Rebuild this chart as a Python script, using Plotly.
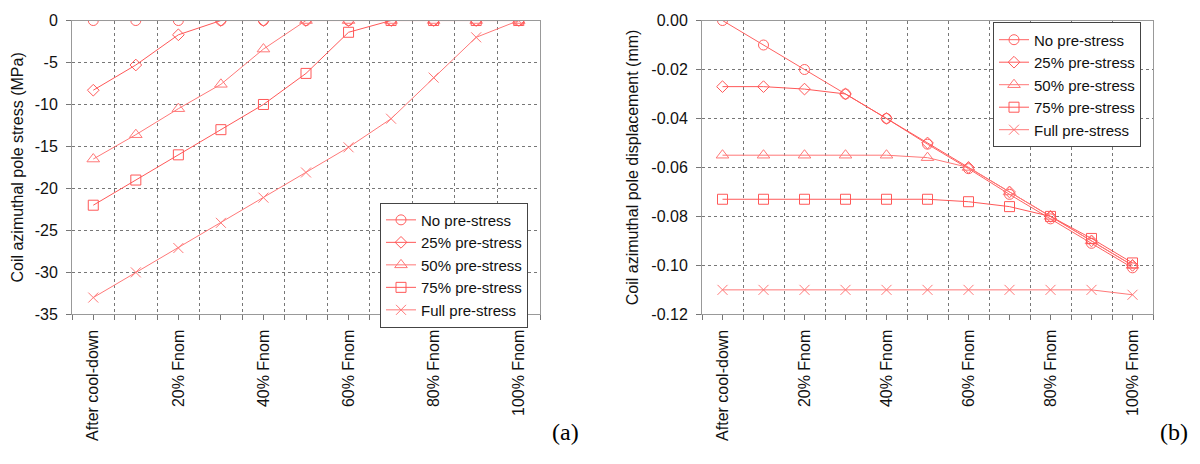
import plotly.graph_objects as go

# ---------------- data ----------------
stages = ["After cool-down", "10% Fnom", "20% Fnom", "30% Fnom", "40% Fnom", "50% Fnom",
          "60% Fnom", "70% Fnom", "80% Fnom", "90% Fnom", "100% Fnom"]
stage_tick_text = ["After cool-down", "", "20% Fnom", "", "40% Fnom", "",
                   "60% Fnom", "", "80% Fnom", "", "100% Fnom"]

series_names = ["No pre-stress", "25% pre-stress", "50% pre-stress", "75% pre-stress", "Full pre-stress"]

stress_none = [0, 0, 0, 0, 0, 0, 0, 0, 0, 0, 0]
stress_25 = [-8.3, -5.3, -1.7, 0, 0, 0, 0, 0, 0, 0, 0]
stress_50 = [-16.5, -13.6, -10.5, -7.6, -3.4, 0, 0, 0, 0, 0, 0]
stress_75 = [-22.0, -19.0, -16.0, -13.0, -10.0, -6.3, -1.4, 0, 0, 0, 0]
stress_full = [-33.0, -30.0, -27.1, -24.1, -21.1, -18.1, -15.1, -11.7, -6.8, -2.0, 0]

disp_none = [0.0, -0.010, -0.020, -0.030, -0.040, -0.0505, -0.0605, -0.071, -0.081, -0.091, -0.101]
disp_25 = [-0.027, -0.027, -0.028, -0.030, -0.040, -0.050, -0.060, -0.070, -0.080, -0.090, -0.100]
disp_50 = [-0.055, -0.055, -0.055, -0.055, -0.055, -0.056, -0.060, -0.070, -0.080, -0.090, -0.100]
disp_75 = [-0.073, -0.073, -0.073, -0.073, -0.073, -0.073, -0.074, -0.076, -0.080, -0.089, -0.099]
disp_full = [-0.110, -0.110, -0.110, -0.110, -0.110, -0.110, -0.110, -0.110, -0.110, -0.110, -0.112]

stress_ticks = [0, -5, -10, -15, -20, -25, -30, -35]
stress_tick_text = ["0", "-5", "-10", "-15", "-20", "-25", "-30", "-35"]
disp_ticks = [0.0, -0.02, -0.04, -0.06, -0.08, -0.10, -0.12]
disp_tick_text = ["0.00", "-0.02", "-0.04", "-0.06", "-0.08", "-0.10", "-0.12"]

# ---------------- styles ----------------
symbols = ["circle-open", "diamond-open", "triangle-up-open", "square-open", "x-thin-open"]
colors = ["#ff6060", "#ff5858", "#ff7878", "#ff5858", "#ff7878"]
sizes = [10, 9, 11, 10, 10]

x_idx = list(range(len(stages)))
FONT = "Liberation Sans, Arial, sans-serif"
FS = 16

fig = go.Figure()

left_series = [stress_none, stress_25, stress_50, stress_75, stress_full]
right_series = [disp_none, disp_25, disp_50, disp_75, disp_full]

for i, (name, ys) in enumerate(zip(series_names, left_series)):
    fig.add_trace(go.Scatter(
        x=x_idx, y=ys, name=name, mode="lines+markers",
        line=dict(color=colors[i], width=1),
        marker=dict(symbol=symbols[i], size=sizes[i], color=colors[i], line=dict(width=1)),
        xaxis="x", yaxis="y", legend="legend",
        hovertext=stages,
    ))

for i, (name, ys) in enumerate(zip(series_names, right_series)):
    fig.add_trace(go.Scatter(
        x=x_idx, y=ys, name=name, mode="lines+markers",
        line=dict(color=colors[i], width=1),
        marker=dict(symbol=symbols[i], size=sizes[i], color=colors[i], line=dict(width=1)),
        xaxis="x2", yaxis="y2", legend="legend2",
        hovertext=stages,
    ))

W, H = 1200, 464
ydom = [1 - 318 / H, 1 - 13 / H]

def xaxis_cfg(domain, anchor):
    return dict(
        domain=domain, anchor=anchor,
        range=[-0.5, len(stages) - 0.5],
        tickmode="array", tickvals=x_idx, ticktext=stage_tick_text,
        tickangle=-90, ticks="outside", ticklen=5, tickcolor="#777",
        tickfont=dict(family=FONT, size=FS, color="#111"),
        ticklabelstandoff=3,
        showgrid=False, zeroline=False,
        showline=True, linecolor="#999", linewidth=1, mirror=True,
        minor=dict(tick0=0.5, dtick=1, ticks="outside", ticklen=5, tickcolor="#777",
                   showgrid=True, gridcolor="#777", griddash="dot", gridwidth=1),
        fixedrange=True,
    )

def yaxis_cfg(domain, anchor, rng, tv, tt, title, standoff):
    return dict(
        domain=domain, anchor=anchor, range=rng,
        tickmode="array", tickvals=tv, ticktext=tt,
        ticks="outside", ticklen=5, tickcolor="#777",
        tickfont=dict(family=FONT, size=FS, color="#111"),
        ticklabelstandoff=5,
        showgrid=True, gridcolor="#777", griddash="dot", gridwidth=1,
        zeroline=False,
        showline=True, linecolor="#999", linewidth=1, mirror=True,
        title=dict(text=title, font=dict(family=FONT, size=FS, color="#111"), standoff=standoff),
        fixedrange=True,
    )

legend_common = dict(
    bgcolor="white", bordercolor="#444", borderwidth=1,
    font=dict(family=FONT, size=15, color="#111"),
    xanchor="left", yanchor="top", tracegroupgap=0,
)

fig.update_layout(
    width=W, height=H,
    margin=dict(l=0, r=0, t=0, b=0),
    paper_bgcolor="white", plot_bgcolor="white",
    showlegend=True,
    xaxis=xaxis_cfg([72 / W, 540 / W], "y"),
    yaxis=yaxis_cfg(ydom, "x", [-35, 0], stress_ticks, stress_tick_text,
                    "Coil azimuthal pole stress (MPa)", 7),
    xaxis2=xaxis_cfg([702 / W, 1153 / W], "y2"),
    yaxis2=yaxis_cfg(ydom, "x2", [-0.12, 0], disp_ticks, disp_tick_text,
                     "Coil azimuthal pole displacement (mm)", 8),
    legend=dict(x=380 / W, y=1 - 202 / H, **legend_common),
    legend2=dict(x=993 / W, y=1 - 15 / H, **legend_common),
    annotations=[
        dict(text="(a)", x=581 / W, y=1 - 440 / H, xref="paper", yref="paper",
             xanchor="right", yanchor="middle", showarrow=False,
             font=dict(family="Liberation Serif, Times New Roman, serif", size=24, color="#000")),
        dict(text="(b)", x=1190 / W, y=1 - 440 / H, xref="paper", yref="paper",
             xanchor="right", yanchor="middle", showarrow=False,
             font=dict(family="Liberation Serif, Times New Roman, serif", size=24, color="#000")),
    ],
)

fig.write_html("out.html")
